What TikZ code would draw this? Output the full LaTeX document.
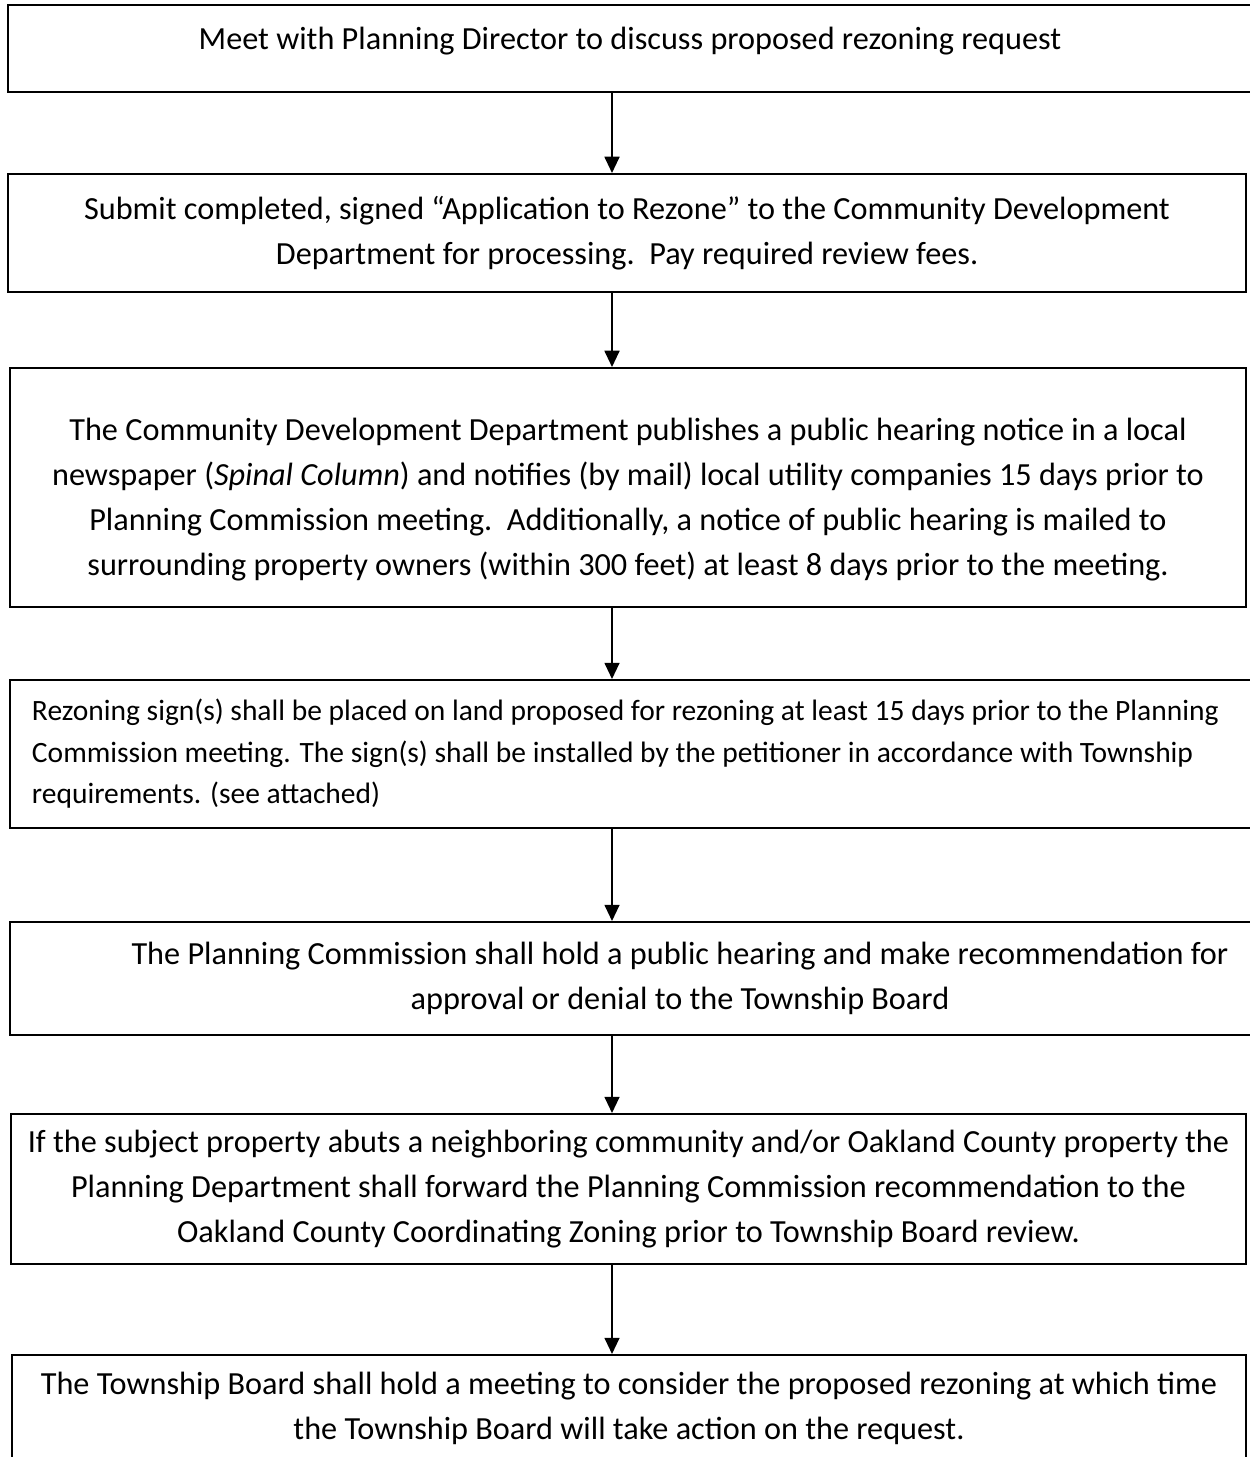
\documentclass[tikz,border=0pt]{standalone}
\usepackage{fontspec}
\setmainfont{Carlito}
\usetikzlibrary{arrows.meta}

\begin{document}
\begin{tikzpicture}[x=0.4pt, y=-0.4pt,
  box/.style={draw, line width=0.8pt, inner sep=0pt, align=center, font=\fontsize{12.9}{18}\selectfont},
  flow/.style={line width=0.7pt, -{Triangle[width=6pt, length=6.5pt]}}]
\useasboundingbox (0,0) rectangle (1250,1457);
\coordinate (axis) at (612,0);

\node[box, minimum width=497.6pt, text height=18pt, text depth=16.8pt] (meet) at (630,48.5)
  {Meet with Planning Director to discuss proposed rezoning request};
\node[box, minimum width=495.2pt, minimum height=47.2pt] (submit) at (627,233)
  {Submit completed, signed “Application to Rezone” to the Community Development\\
   Department for processing.\ \ Pay required review fees.};
\node[box, minimum width=494.4pt, minimum height=95.6pt] (notice) at (628,487.5)
  {\rule{0pt}{19pt}The Community Development Department publishes a public hearing notice in a local\\
   newspaper (\textit{Spinal Column}) and notifies (by mail) local utility companies 15 days prior to\\
   Planning Commission meeting.\ \ Additionally, a notice of public hearing is mailed to\\
   surrounding property owners (within 300 feet) at least 8 days prior to the meeting.};
\node[box, align=flush left, text width=482.4pt, inner xsep=8.8pt, minimum height=59.2pt,
  font=\fontsize{11.8}{16.6}\selectfont] (sign) at (635,754)
  {Rezoning sign(s) shall be placed on land proposed for rezoning at least 15 days prior to the Planning\\
   Commission meeting. The sign(s) shall be installed by the petitioner in accordance with Township\\
   requirements. (see attached)};
\node[box, minimum width=536pt, minimum height=45.2pt] (hearing) at (680,978.5)
  {The Planning Commission shall hold a public hearing and make recommendation for\\
   approval or denial to the Township Board};
\node[box, minimum width=494pt, minimum height=60pt] (county) at (628.5,1189)
  {If the subject property abuts a neighboring community and/or Oakland County property the\\
   Planning Department shall forward the Planning Commission recommendation to the\\
   Oakland County Coordinating Zoning prior to Township Board review.};
\node[box, minimum width=493.6pt, minimum height=42.8pt] (board) at (629,1408.5)
  {The Township Board shall hold a meeting to consider the proposed rezoning at which time\\
   the Township Board will take action on the request.};

\draw[flow] (meet.south -| axis) -- (submit.north -| axis);
\draw[flow] (submit.south -| axis) -- (notice.north -| axis);
\draw[flow] (notice.south -| axis) -- (sign.north -| axis);
\draw[flow] (sign.south -| axis) -- (hearing.north -| axis);
\draw[flow] (hearing.south -| axis) -- (county.north -| axis);
\draw[flow] (county.south -| axis) -- (board.north -| axis);
\end{tikzpicture}
\end{document}
